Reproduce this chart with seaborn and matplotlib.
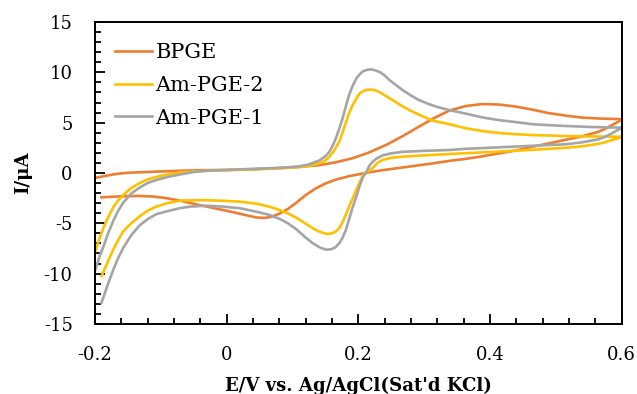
import numpy as np
import pandas as pd
import matplotlib
matplotlib.use("Agg")
import matplotlib.pyplot as plt
import seaborn as sns
from matplotlib.ticker import MultipleLocator
from matplotlib.transforms import ScaledTranslation

# ---- data (E in V, I in uA): forward scan then reverse scan ----
bpge_E = [-0.200, -0.185, -0.170, -0.157, -0.140, -0.120, -0.100, -0.071, -0.040, 0.000,
          0.035, 0.070, 0.100, 0.125, 0.141, 0.165, 0.191, 0.215, 0.242, 0.267, 0.292,
          0.315, 0.338, 0.363, 0.388, 0.414, 0.439, 0.464, 0.489, 0.515, 0.540, 0.570, 0.600,
          0.595, 0.585, 0.575, 0.565, 0.540, 0.515, 0.490, 0.464, 0.440, 0.414, 0.388, 0.363,
          0.338, 0.313, 0.287, 0.262, 0.237, 0.212, 0.186, 0.165, 0.150, 0.135, 0.120, 0.106,
          0.093, 0.080, 0.068, 0.057, 0.045, 0.030, 0.010, -0.015, -0.041, -0.071, -0.092,
          -0.110, -0.132, -0.160, -0.190]
bpge_I = [-0.50, -0.30, -0.12, -0.02, 0.05, 0.10, 0.15, 0.22, 0.27, 0.30,
          0.35, 0.45, 0.55, 0.68, 0.78, 1.05, 1.46, 2.00, 2.78, 3.65, 4.60,
          5.45, 6.20, 6.65, 6.85, 6.80, 6.60, 6.30, 5.95, 5.70, 5.50, 5.40, 5.35,
          5.10, 4.75, 4.40, 4.10, 3.65, 3.30, 2.95, 2.60, 2.25, 1.95, 1.65, 1.40,
          1.20, 0.95, 0.72, 0.50, 0.28, 0.02, -0.32, -0.68, -1.05, -1.55, -2.20, -2.95,
          -3.58, -4.05, -4.35, -4.48, -4.42, -4.20, -3.90, -3.55, -3.20, -2.75, -2.50,
          -2.35, -2.28, -2.32, -2.42]

am1_E = [-0.200, -0.193, -0.187, -0.180, -0.172, -0.165, -0.157, -0.145, -0.132, -0.120,
         -0.107, -0.090, -0.071, -0.050, -0.025, 0.000, 0.035, 0.065, 0.090, 0.110, 0.125,
         0.141, 0.150, 0.156, 0.161, 0.166, 0.171, 0.176, 0.181, 0.186, 0.191, 0.197, 0.202,
         0.207, 0.213, 0.219, 0.226, 0.232, 0.240, 0.247, 0.257, 0.267, 0.280, 0.292, 0.305,
         0.318, 0.338, 0.363, 0.390, 0.414, 0.440, 0.464, 0.490, 0.515, 0.550, 0.600,
         0.595, 0.585, 0.575, 0.565, 0.540, 0.515, 0.464, 0.414, 0.363, 0.338, 0.300, 0.267,
         0.250, 0.237, 0.228, 0.222, 0.217, 0.212, 0.207, 0.202, 0.197, 0.191, 0.186, 0.181,
         0.176, 0.171, 0.165, 0.158, 0.151, 0.143, 0.131, 0.118, 0.106, 0.093, 0.080, 0.065,
         0.045, 0.020, -0.005, -0.031, -0.056, -0.071, -0.090, -0.107, -0.120, -0.132, -0.145,
         -0.157, -0.165, -0.172, -0.181, -0.190]
am1_I = [-9.80, -8.30, -7.30, -6.00, -4.75, -3.80, -2.95, -2.05, -1.45, -1.00,
         -0.70, -0.40, -0.15, 0.10, 0.25, 0.30, 0.40, 0.47, 0.55, 0.65, 0.85,
         1.25, 1.65, 2.10, 2.70, 3.45, 4.40, 5.40, 6.60, 7.75, 8.60, 9.40, 9.80,
         10.10, 10.25, 10.30, 10.20, 10.05, 9.70, 9.25, 8.75, 8.25, 7.70, 7.25, 6.90,
         6.60, 6.25, 5.90, 5.50, 5.25, 5.05, 4.85, 4.75, 4.67, 4.58, 4.50,
         4.30, 3.94, 3.60, 3.35, 3.05, 2.85, 2.70, 2.55, 2.40, 2.28, 2.20, 2.10,
         1.95, 1.75, 1.45, 1.12, 0.75, 0.05, -0.40, -1.30, -2.35, -3.50, -4.60, -5.70,
         -6.45, -7.00, -7.40, -7.60, -7.62, -7.45, -7.00, -6.30, -5.60, -5.00, -4.55, -4.17,
         -3.85, -3.50, -3.35, -3.25, -3.35, -3.50, -3.80, -4.10, -4.60, -5.20, -6.20,
         -7.45, -8.50, -9.60, -11.20, -12.90]

am2_E = [-0.200, -0.193, -0.187, -0.180, -0.172, -0.165, -0.157, -0.145, -0.132, -0.120,
         -0.107, -0.090, -0.071, -0.050, -0.025, 0.000, 0.035, 0.065, 0.090, 0.110, 0.125,
         0.141, 0.150, 0.156, 0.163, 0.171, 0.176, 0.181, 0.186, 0.191, 0.197, 0.202, 0.209,
         0.217, 0.224, 0.232, 0.242, 0.252, 0.264, 0.277, 0.292, 0.313, 0.338, 0.363, 0.390,
         0.414, 0.440, 0.464, 0.515, 0.550, 0.600,
         0.595, 0.585, 0.575, 0.565, 0.540, 0.515, 0.464, 0.414, 0.363, 0.338, 0.300, 0.267,
         0.250, 0.237, 0.228, 0.222, 0.216, 0.209, 0.204, 0.199, 0.193, 0.186, 0.180, 0.176,
         0.171, 0.165, 0.159, 0.153, 0.146, 0.138, 0.131, 0.118, 0.106, 0.093, 0.080, 0.065,
         0.045, 0.020, -0.010, -0.040, -0.071, -0.090, -0.107, -0.120, -0.132, -0.145, -0.157,
         -0.165, -0.172, -0.181, -0.190]
am2_I = [-7.90, -6.50, -5.45, -4.40, -3.40, -2.75, -2.20, -1.50, -1.00, -0.65,
         -0.40, -0.15, 0.05, 0.15, 0.23, 0.28, 0.35, 0.42, 0.50, 0.58, 0.70,
         0.96, 1.25, 1.60, 2.20, 3.10, 4.00, 5.00, 5.95, 6.70, 7.40, 7.90, 8.20,
         8.30, 8.25, 8.05, 7.65, 7.25, 6.75, 6.26, 5.80, 5.20, 4.85, 4.45, 4.15,
         3.97, 3.85, 3.77, 3.67, 3.63, 3.60,
         3.45, 3.28, 3.05, 2.90, 2.65, 2.50, 2.30, 2.12, 1.97, 1.88, 1.75, 1.62,
         1.50, 1.30, 0.95, 0.50, 0.20, -0.05, -0.65, -1.36, -2.30, -3.35, -4.30, -4.90,
         -5.50, -5.85, -6.02, -6.06, -5.95, -5.75, -5.50, -4.95, -4.45, -4.02, -3.67, -3.35,
         -3.05, -2.85, -2.75, -2.70, -2.75, -3.00, -3.35, -3.75, -4.30, -5.00, -5.80,
         -6.70, -7.60, -8.90, -10.25]

series_names = ["BPGE", "Am-PGE-2", "Am-PGE-1"]
series_colors = ["#ED7D31", "#FFC000", "#A5A5A5"]

x_ticks = [-0.2, 0, 0.2, 0.4, 0.6]
x_tick_labels = ["-0.2", "0", "0.2", "0.4", "0.6"]
y_ticks = [-15, -10, -5, 0, 5, 10, 15]
y_tick_labels = ["-15", "-10", "-5", "0", "5", "10", "15"]

frames = []
for name, E, I in zip(series_names, [bpge_E, am2_E, am1_E], [bpge_I, am2_I, am1_I]):
    frames.append(pd.DataFrame({"E": E, "I": I, "series": name}))
df = pd.concat(frames, ignore_index=True)

base_rc = {
    "font.family": ["DejaVu Serif"],
    "axes.unicode_minus": False,
    "xtick.direction": "in",
    "ytick.direction": "in",
    "xtick.major.size": 7,
    "ytick.major.size": 7,
    "xtick.minor.size": 4.5,
    "ytick.minor.size": 4.5,
    "xtick.labelsize": 13,
    "ytick.labelsize": 13,
    "axes.linewidth": 1.4,
}
# tick styles to try, best match first; the first whose ticks really render is kept
tick_styles = [
    {"xtick.major.width": 1.3, "ytick.major.width": 1.3,
     "xtick.minor.width": 1.3, "ytick.minor.width": 1.3},
    {"xtick.major.width": 1.0, "ytick.major.width": 1.0,
     "xtick.minor.width": 1.0, "ytick.minor.width": 1.0},
    {},
    {"xtick.direction": "inout", "ytick.direction": "inout"},
]


def build(style):
    plt.rcdefaults()
    rc = dict(base_rc)
    rc.update(style)
    plt.rcParams.update(rc)

    fig = plt.figure(figsize=(6.37, 3.94), dpi=100, facecolor="white")
    ax = fig.add_axes([0.149, 0.178, 0.827, 0.766])
    sns.lineplot(data=df, x="E", y="I", hue="series", hue_order=series_names,
                 palette=series_colors, sort=False, estimator=None, linewidth=1.9, ax=ax)
    for ln in ax.get_lines():
        ln.set_solid_joinstyle("round")

    ax.set_xlim(-0.2, 0.6)
    ax.set_ylim(-15, 15)
    ax.set_xticks(x_ticks)
    ax.set_xticklabels(x_tick_labels)
    ax.set_yticks(y_ticks)
    ax.set_yticklabels(y_tick_labels)
    ax.xaxis.set_minor_locator(MultipleLocator(0.04))
    ax.yaxis.set_minor_locator(MultipleLocator(1))
    ax.grid(False)

    # push tick labels away from the spines (keeps the default tick pad)
    x_shift = ScaledTranslation(0, -12.5 / 72, fig.dpi_scale_trans)
    y_shift = ScaledTranslation(-12.5 / 72, 0, fig.dpi_scale_trans)
    for lab in ax.xaxis.get_majorticklabels():
        lab.set_transform(lab.get_transform() + x_shift)
    for lab in ax.yaxis.get_majorticklabels():
        lab.set_transform(lab.get_transform() + y_shift)

    ax.set_xlabel("E/V vs. Ag/AgCl(Sat'd KCl)", fontsize=13.1, fontweight="bold", labelpad=9)
    ax.set_ylabel("I/μA", fontsize=13.1, fontweight="bold", labelpad=8)

    leg = ax.legend(loc="upper left", frameon=False, fontsize=15, handlelength=1.8,
                    handletextpad=0.15, labelspacing=0.66, borderpad=0, borderaxespad=0,
                    bbox_to_anchor=(0.038, 0.93))
    for line in leg.get_lines():
        line.set_linewidth(1.9)
    return fig, ax


def ticks_rendered(fig, ax):
    fig.canvas.draw()
    img = np.asarray(fig.canvas.buffer_rgba())[..., :3].astype(float)
    h = img.shape[0]
    xl, y10 = ax.transData.transform((-0.2, 10))
    x02, yb = ax.transData.transform((0.2, -15))
    r = int(round(h - y10))
    c = int(round(xl)) + 5
    left_dark = img[r - 1:r + 2, c].mean() < 160
    r2 = int(round(h - yb)) - 5
    c2 = int(round(x02))
    bottom_dark = img[r2, c2 - 1:c2 + 2].mean() < 160
    return left_dark and bottom_dark


chosen = None
for st in tick_styles:
    fig, ax = build(st)
    if ticks_rendered(fig, ax):
        chosen = fig
        break
    plt.close(fig)

if chosen is None:
    chosen, ax = build(tick_styles[0])

chosen.savefig("out.png", dpi=100)
